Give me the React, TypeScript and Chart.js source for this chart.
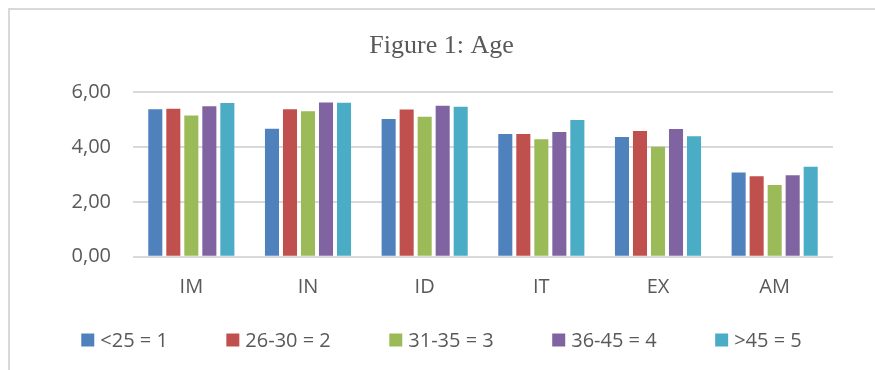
import React, { useEffect, useRef } from "react";
import { Chart, registerables } from "chart.js";

Chart.register(...registerables);

const categories = ["IM", "IN", "ID", "IT", "EX", "AM"];
const seriesLabels = ["<25 = 1", "26-30 = 2", "31-35 = 3", "36-45 = 4", ">45 = 5"];
const under25 = [5.37, 4.66, 5.02, 4.47, 4.36, 3.07];
const age26to30 = [5.39, 5.37, 5.36, 4.47, 4.58, 2.93];
const age31to35 = [5.14, 5.30, 5.10, 4.28, 4.01, 2.61];
const age36to45 = [5.48, 5.62, 5.50, 4.54, 4.65, 2.97];
const over45 = [5.60, 5.61, 5.46, 4.98, 4.39, 3.28];
const seriesColors = ["#4F81BD", "#C0504D", "#9BBB59", "#8064A2", "#4BACC6"];
const yTicks = [0, 2, 4, 6];

const FONT = "'Open Sans', sans-serif";
const TEXT = "#595959";

const bottomLegend = {
  id: "bottomLegend",
  afterDraw(chart: any) {
    const ctx = chart.ctx;
    const items = chart.data.datasets.map((d: any) => ({ text: d.label, color: d.backgroundColor }));
    const box = 13;
    const gapText = 6;
    const gapItem = 58.5;
    ctx.save();
    ctx.font = `20px ${FONT}`;
    const widths = items.map((it: any) => box + gapText + ctx.measureText(it.text).width);
    const total = widths.reduce((a: number, b: number) => a + b, 0) + gapItem * (items.length - 1);
    const centerX = (50 + chart.width - 42) / 2;
    const cy = 340;
    let x = centerX - total / 2;
    ctx.textBaseline = "middle";
    ctx.textAlign = "left";
    items.forEach((it: any, i: number) => {
      ctx.fillStyle = it.color;
      ctx.fillRect(x, cy - box / 2, box, box);
      ctx.fillStyle = TEXT;
      ctx.fillText(it.text, x + box + gapText, cy + 1);
      x += widths[i] + gapItem;
    });
    ctx.restore();
  },
};

export default function App() {
  const ref = useRef<HTMLCanvasElement | null>(null);

  useEffect(() => {
    if (!ref.current) return;
    const values = [under25, age26to30, age31to35, age36to45, over45];
    const chart = new Chart(ref.current, {
      type: "bar",
      data: {
        labels: categories,
        datasets: values.map((v, i) => ({
          label: seriesLabels[i],
          data: v,
          backgroundColor: seriesColors[i],
          borderWidth: 0,
          categoryPercentage: 0.772,
          barPercentage: 0.78,
        })),
      },
      options: {
        responsive: false,
        animation: false,
        layout: { padding: { left: 50, right: 42, top: 20, bottom: 68.3 } },
        plugins: {
          title: {
            display: true,
            text: "Figure 1: Age",
            color: TEXT,
            font: { family: "'Liberation Serif', 'Times New Roman', serif", size: 26, weight: "normal" },
            padding: { top: 11, bottom: 29.8 },
          },
          legend: { display: false },
          tooltip: { enabled: false },
        },
        scales: {
          x: {
            grid: { display: false, drawTicks: false },
            border: { display: false },
            ticks: {
              color: TEXT,
              font: { family: FONT, size: 20 },
              padding: 19,
            },
            afterFit: (s: any) => {
              s.height = 45;
            },
          },
          y: {
            min: 0,
            max: 6,
            afterBuildTicks: (s: any) => {
              s.ticks = yTicks.map((v) => ({ value: v }));
            },
            grid: { color: "#d9d9d9", lineWidth: 2, drawTicks: false },
            border: { display: false },
            ticks: {
              color: TEXT,
              font: { family: FONT, size: 20 },
              padding: 22,
              callback: (v: any) => Number(v).toFixed(2).replace(".", ","),
            },
            afterFit: (s: any) => {
              s.width = 83;
            },
          },
        },
      },
      plugins: [bottomLegend],
    });
    return () => chart.destroy();
  }, []);

  return (
    <div style={{ position: "absolute", left: 0, top: 0, width: 875, height: 370, background: "#fff" }}>
      <div
        style={{
          position: "absolute",
          left: 8,
          top: 8,
          width: 865,
          height: 360,
          borderTop: "2px solid #d9d9d9",
          borderLeft: "2px solid #d9d9d9",
        }}
      />
      <canvas ref={ref} width={875} height={370} style={{ position: "absolute", left: 0, top: 0 }} />
    </div>
  );
}
